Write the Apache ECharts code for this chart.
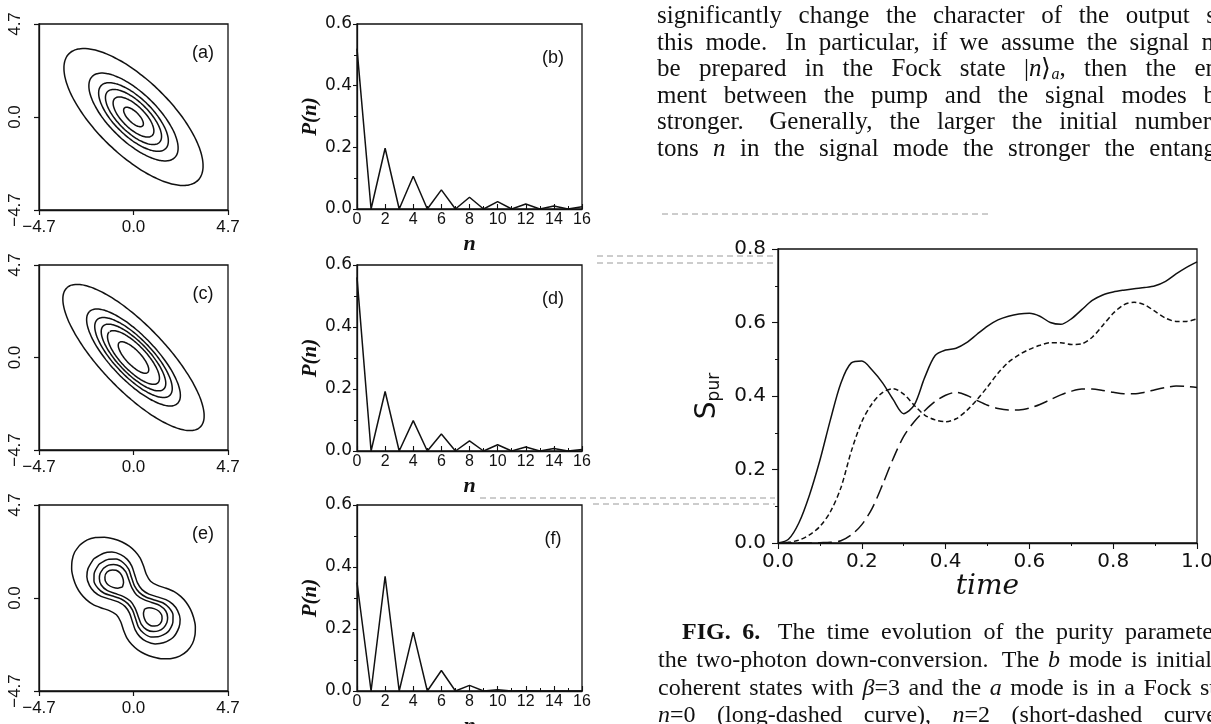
<!DOCTYPE html>
<html>
<head>
<meta charset="utf-8">
<script src="https://cdn.jsdelivr.net/npm/echarts@6.0.0/dist/echarts.min.js"></script>
<style>
html,body{margin:0;padding:0;background:#ffffff;}
#c{width:1211px;height:724px;}
</style>
</head>
<body>
<div id="c"></div>
<script>
// ---------------- DATA ----------------
// photon-number distributions P(n), n = 0..16
const nValues = [0,1,2,3,4,5,6,7,8,9,10,11,12,13,14,15,16];
const pnB = [0.52,0,0.197,0,0.106,0,0.062,0,0.038,0,0.024,0,0.016,0,0.010,0,0.007];
const pnD = [0.56,0,0.192,0,0.098,0,0.055,0,0.033,0,0.020,0,0.013,0,0.008,0,0.005];
const pnF = [0.35,0,0.37,0,0.19,0,0.066,0,0.018,0,0.004,0,0.001,0,0,0,0];

// purity parameter S_pur vs time
const timeValues = [0,0.025,0.05,0.075,0.1,0.125,0.15,0.175,0.2,0.225,0.25,0.275,0.3,0.325,0.35,0.375,0.4,0.425,0.45,0.475,0.5,0.525,0.55,0.575,0.6,0.625,0.65,0.675,0.7,0.725,0.75,0.775,0.8,0.825,0.85,0.875,0.9,0.925,0.95,0.975,1.0];
const sSolid = [0,0.010,0.055,0.130,0.225,0.335,0.435,0.490,0.495,0.470,0.435,0.390,0.352,0.375,0.450,0.510,0.525,0.530,0.545,0.568,0.590,0.607,0.617,0.623,0.625,0.617,0.600,0.595,0.610,0.635,0.660,0.675,0.683,0.688,0.692,0.695,0.700,0.712,0.732,0.750,0.765];
const sShort = [0,0.002,0.008,0.022,0.045,0.085,0.150,0.250,0.330,0.380,0.410,0.420,0.405,0.375,0.348,0.335,0.330,0.338,0.360,0.390,0.425,0.462,0.492,0.512,0.527,0.538,0.545,0.545,0.540,0.542,0.560,0.592,0.625,0.648,0.655,0.648,0.630,0.612,0.603,0.603,0.610];
const sLong  = [0,0,0,0,0.001,0.002,0.006,0.022,0.050,0.095,0.160,0.230,0.290,0.330,0.360,0.385,0.402,0.410,0.402,0.388,0.375,0.366,0.362,0.362,0.367,0.377,0.390,0.403,0.413,0.419,0.419,0.415,0.410,0.406,0.406,0.410,0.417,0.423,0.427,0.426,0.423];

// contour plots: ellipse semi-axes (major, minor) and major-axis angle (deg)
const contAMajor = [4.53,2.90,2.26,1.82,1.32,0.64];
const contAMinor = [1.85,1.20,0.95,0.76,0.56,0.27];
const contAAngle = 135;
const contCMajor = [4.85,3.20,2.64,2.20,1.77,1.04];
const contCMinor = [1.62,1.12,0.94,0.78,0.63,0.37];
const contCAngle = 133;
// panel (e): two-lobed contours, half-width v at position u along the main diagonal
const contE1 = [[0,1.20],[0.4,1.30],[0.8,1.50],[1.2,1.66],[1.6,1.72],[2.0,1.70],[2.4,1.60],[2.8,1.42],[3.2,1.15],[3.5,0.82],[3.7,0.45],[3.78,0]];
const contE2 = [[0,0.60],[0.4,0.68],[0.8,0.88],[1.2,1.08],[1.6,1.16],[2.0,1.10],[2.4,0.88],[2.65,0.55],[2.8,0]];
const contE3 = [[0,0.40],[0.4,0.47],[0.8,0.66],[1.2,0.86],[1.6,0.90],[2.0,0.78],[2.25,0.52],[2.42,0]];
const contE4 = [[0,0.22],[0.4,0.30],[0.8,0.48],[1.2,0.66],[1.6,0.67],[1.9,0.50],[2.05,0.30],[2.12,0]];
const contELoop = [[0.78,0],[0.9,0.20],[1.1,0.34],[1.35,0.42],[1.6,0.38],[1.75,0.26],[1.86,0]];
const eAngle = -45;

const contTicks = ['−4.7','0.0','4.7'];
const panelLabels = ['(a)','(b)','(c)','(d)','(e)','(f)'];

// page text (visible part of each line, cut by the page edge)
const bodyLines = [
  'significantly change the character of the output s',
  'this mode.  In particular, if we assume the signal m',
  'be prepared in the Fock state |{i|n}⟩{s|a}, then the en',
  'ment between the pump and the signal modes b',
  'stronger.  Generally, the larger the initial number',
  'tons {i|n} in the signal mode the stronger the entang'
];
const captionLines = [
  '{b|FIG.} {b|6.}  The time evolution of the purity parameter',
  'the two-photon down-conversion.  The {i|b} mode is initial',
  'coherent states with {i|β}=3 and the {i|a} mode is in a Fock st',
  '{i|n}=0  (long-dashed  curve),  {i|n}=2  (short-dashed  curve'
];

// ---------------- HELPERS ----------------
const INK = '#111111';
const SANS = 'Liberation Sans';
const SERIF = 'Liberation Serif';

function ellipsePts(a, b, angDeg){
  const th = angDeg*Math.PI/180, pts = [];
  for (let k=0;k<=120;k++){
    const t = k/120*2*Math.PI;
    const u = a*Math.cos(t), v = b*Math.sin(t);
    pts.push([u*Math.cos(th)-v*Math.sin(th), u*Math.sin(th)+v*Math.cos(th)]);
  }
  return pts;
}
function rot(u, v, angDeg){
  const th = angDeg*Math.PI/180;
  return [u*Math.cos(th)-v*Math.sin(th), u*Math.sin(th)+v*Math.cos(th)];
}
function peanutPts(prof, angDeg){
  const up = [];
  for (let i=prof.length-1;i>=0;i--) up.push([-prof[i][0], prof[i][1]]);
  for (let i=1;i<prof.length;i++) up.push([prof[i][0], prof[i][1]]);
  const pts = up.map(p=>rot(p[0],p[1],angDeg));
  for (let i=up.length-2;i>=0;i--) pts.push(rot(up[i][0], -up[i][1], angDeg));
  return pts;
}
function loopPts(prof, sign, angDeg){
  const pts = [];
  for (let i=0;i<prof.length;i++) pts.push(rot(sign*prof[i][0], prof[i][1], angDeg));
  for (let i=prof.length-2;i>=0;i--) pts.push(rot(sign*prof[i][0], -prof[i][1], angDeg));
  return pts;
}

const BOX = {
  a:{left:39, top:24, width:189, height:186},
  b:{left:357,top:24, width:225, height:185},
  c:{left:39, top:265,width:189, height:185},
  d:{left:357,top:265,width:225, height:186},
  e:{left:39, top:505,width:189, height:186},
  f:{left:357,top:505,width:225, height:186},
  s:{left:778,top:249,width:419, height:294}
};

const grids=[], xAxes=[], yAxes=[], series=[], graphics=[];
function addGrid(box){
  grids.push(Object.assign({show:true, borderColor:INK, borderWidth:1.3, backgroundColor:'transparent',
    containLabel:false, outerBoundsMode:'none'}, box));
  return grids.length-1;
}
const fmtC = v => contTicks[Math.round(v/4.7)+1];

function contourPanel(box, curves, label){
  const gi = addGrid(box);
  const base = {gridIndex:gi, type:'value', min:-4.7, max:4.7, interval:4.7,
    axisLine:{show:true,onZero:false,lineStyle:{color:INK,width:1.3}},
    axisTick:{show:true,inside:false,length:5,lineStyle:{color:INK,width:1.2}},
    splitLine:{show:false}};
  xAxes.push(Object.assign({}, base, {axisLabel:{show:true,color:INK,fontFamily:SANS,fontSize:17,margin:9,formatter:fmtC,showMinLabel:true,showMaxLabel:true}}));
  yAxes.push(Object.assign({}, base, {axisLabel:{show:true,color:INK,fontFamily:SANS,fontSize:17,margin:15,rotate:90,formatter:fmtC,showMinLabel:true,showMaxLabel:true}}));
  curves.forEach(pts=>{
    series.push({type:'line', xAxisIndex:gi, yAxisIndex:gi, data:pts, showSymbol:false, symbol:'none',
      smooth:0.25, lineStyle:{color:INK,width:1.5}, silent:true, animation:false});
  });
  graphics.push({type:'text', style:{text:label, x:box.left+box.width-25, y:box.top+29, align:'center', verticalAlign:'middle',
    fontFamily:SANS, fontSize:18, fill:INK}});
}

function pnPanel(box, values, label){
  const gi = addGrid(box);
  xAxes.push({gridIndex:gi, type:'value', min:0, max:16, interval:2,
    name:'n', nameLocation:'middle', nameGap:24,
    nameTextStyle:{fontFamily:SERIF, fontStyle:'italic', fontWeight:'bold', fontSize:22, color:INK},
    axisLine:{show:true,onZero:false,lineStyle:{color:INK,width:1.3}},
    axisTick:{show:true,inside:true,length:5,lineStyle:{color:INK,width:1.1}},
    minorTick:{show:true,splitNumber:2,length:3,lineStyle:{color:INK,width:1}},
    splitLine:{show:false}, minorSplitLine:{show:false},
    axisLabel:{show:true,color:INK,fontFamily:SANS,fontSize:16,margin:3,showMinLabel:true,showMaxLabel:true}});
  yAxes.push({gridIndex:gi, type:'value', min:0, max:0.6, interval:0.2,
    name:'P(n)', nameLocation:'middle', nameGap:36, nameRotate:90,
    nameTextStyle:{fontFamily:SERIF, fontStyle:'italic', fontWeight:'bold', fontSize:21, color:INK},
    axisLine:{show:true,onZero:false,lineStyle:{color:INK,width:1.3}},
    axisTick:{show:true,inside:false,length:4,lineStyle:{color:INK,width:1.1}},
    minorTick:{show:true,splitNumber:2,length:3,lineStyle:{color:INK,width:1}},
    splitLine:{show:false}, minorSplitLine:{show:false},
    axisLabel:{show:true,color:INK,fontFamily:'DejaVu Sans',fontSize:17,margin:5,formatter:v=>v.toFixed(1),showMinLabel:true,showMaxLabel:true}});
  series.push({type:'line', xAxisIndex:gi, yAxisIndex:gi, data:nValues.map((n,i)=>[n, values[i]]),
    showSymbol:false, symbol:'none', lineStyle:{color:INK,width:1.5}, silent:true, animation:false});
  graphics.push({type:'text', style:{text:label, x:box.left+box.width-29, y:box.top+34, align:'center', verticalAlign:'middle',
    fontFamily:SANS, fontSize:18, fill:INK}});
}

// ---------------- PANELS ----------------
contourPanel(BOX.a, contAMajor.map((a,i)=>ellipsePts(a, contAMinor[i], contAAngle)), panelLabels[0]);
pnPanel(BOX.b, pnB, panelLabels[1]);
contourPanel(BOX.c, contCMajor.map((a,i)=>ellipsePts(a, contCMinor[i], contCAngle)), panelLabels[2]);
pnPanel(BOX.d, pnD, panelLabels[3]);
contourPanel(BOX.e, [peanutPts(contE1,eAngle), peanutPts(contE2,eAngle), peanutPts(contE3,eAngle), peanutPts(contE4,eAngle),
  loopPts(contELoop, 1, eAngle), loopPts(contELoop, -1, eAngle)], panelLabels[4]);
pnPanel(BOX.f, pnF, panelLabels[5]);

// purity chart
(function(){
  const gi = addGrid(BOX.s);
  xAxes.push({gridIndex:gi, type:'value', min:0, max:1, interval:0.2,
    name:'time', nameLocation:'middle', nameGap:29,
    nameTextStyle:{fontFamily:'DejaVu Serif', fontStyle:'italic', fontSize:28, color:INK},
    axisLine:{show:true,onZero:false,lineStyle:{color:INK,width:1.3}},
    axisTick:{show:true,inside:false,length:6,lineStyle:{color:INK,width:1.1}},
    minorTick:{show:true,splitNumber:2,length:3,lineStyle:{color:INK,width:1}},
    splitLine:{show:false}, minorSplitLine:{show:false},
    axisLabel:{show:true,color:INK,fontFamily:'DejaVu Sans',fontSize:20,margin:9,formatter:v=>v.toFixed(1),showMinLabel:true,showMaxLabel:true}});
  yAxes.push({gridIndex:gi, type:'value', min:0, max:0.8, interval:0.2,
    name:'{s|S}{p|pur}', nameLocation:'middle', nameGap:55, nameRotate:90,
    nameTextStyle:{color:INK, rich:{
      s:{fontFamily:'DejaVu Sans', fontSize:28, lineHeight:30, color:INK},
      p:{fontFamily:'DejaVu Sans', fontSize:17, lineHeight:14, verticalAlign:'bottom', color:INK}}},
    axisLine:{show:true,onZero:false,lineStyle:{color:INK,width:1.3}},
    axisTick:{show:true,inside:false,length:6,lineStyle:{color:INK,width:1.1}},
    minorTick:{show:true,splitNumber:2,length:3,lineStyle:{color:INK,width:1}},
    splitLine:{show:false}, minorSplitLine:{show:false},
    axisLabel:{show:true,color:INK,fontFamily:'DejaVu Sans',fontSize:20,margin:12,formatter:v=>v.toFixed(1),showMinLabel:true,showMaxLabel:true}});
  const mk = (vals, dash) => ({type:'line', xAxisIndex:gi, yAxisIndex:gi, data:timeValues.map((t,i)=>[t, vals[i]]),
    showSymbol:false, symbol:'none', smooth:0.3, lineStyle:{color:INK,width:1.5,type:dash}, silent:true, animation:false});
  series.push(mk(sSolid,'solid'), mk(sShort,[5,3]), mk(sLong,[14,6]));
})();

// ---------------- PAGE TEXT (justified to the column, cut by page edge) ----------------
const mctx = document.createElement('canvas').getContext('2d');
function segFont(kind, size){
  if (kind==='i') return {style:'italic', weight:'normal', size:size};
  if (kind==='b') return {style:'normal', weight:'bold', size:size};
  if (kind==='s') return {style:'italic', weight:'normal', size:Math.round(size*0.65)};
  return {style:'normal', weight:'normal', size:size};
}
function measureWord(word, size){
  const re = /\{(\w)\|([^}]*)\}/g; let last = 0, w = 0, m;
  const segs = [];
  while ((m = re.exec(word))){ if (m.index>last) segs.push(['', word.slice(last, m.index)]); segs.push([m[1], m[2]]); last = re.lastIndex; }
  if (last < word.length) segs.push(['', word.slice(last)]);
  segs.forEach(s=>{ const f = segFont(s[0], size); mctx.font = f.style+' '+f.weight+' '+f.size+'px "'+SERIF+'"'; w += mctx.measureText(s[1]).width; });
  return w;
}
function richFor(size, lh){
  return {
    i:{fontFamily:SERIF,fontStyle:'italic',fontSize:size,lineHeight:lh,fill:INK},
    b:{fontFamily:SERIF,fontWeight:'bold',fontSize:size,lineHeight:lh,fill:INK},
    s:{fontFamily:SERIF,fontStyle:'italic',fontSize:Math.round(size*0.65),lineHeight:Math.round(lh*0.45),verticalAlign:'bottom',fill:INK}
  };
}
function justifyLine(str, x0, xRight, y, size, lh){
  const parts = str.split(' ');
  const words = []; let extra = 0;
  parts.forEach(p=>{ if (p===''){ extra += 0.5; return; } words.push({t:p, g: words.length ? 1+extra : 0}); extra = 0; });
  let total = 0, gw = 0;
  words.forEach(w=>{ w.w = measureWord(w.t, size); total += w.w; gw += w.g; });
  const natural = size*0.25;
  let gap = gw>0 ? (xRight - x0 - total)/gw : natural;
  if (gap < natural*0.8) gap = natural;
  let x = x0;
  words.forEach(w=>{
    x += w.g*gap;
    graphics.push({type:'text', silent:true, style:{text:w.t, x:x, y:y, align:'left', verticalAlign:'middle',
      fontFamily:SERIF, fontSize:size, lineHeight:lh, fill:INK, rich:richFor(size, lh)}});
    x += w.w;
  });
}
const bodyX = 657, bodyY = [16, 43, 69, 96, 122, 149], bodyRight = [1216, 1221, 1218, 1216, 1211, 1216];
bodyLines.forEach((t,i)=>justifyLine(t, bodyX, bodyRight[i], bodyY[i], 25, 28));
const capX = [682, 658, 658, 658], capY = [633, 661, 689, 716], capRight = [1221, 1212, 1216, 1217];
captionLines.forEach((t,i)=>justifyLine(t, capX[i], capRight[i], capY[i], 24, 28));

// faint scan streaks
[[662,214,990,214],[597,256,775,256],[597,263,775,263],[480,498,775,498],[593,504,775,504]].forEach(s=>{
  graphics.push({type:'line', shape:{x1:s[0],y1:s[1],x2:s[2],y2:s[3]}, style:{stroke:'#9a9a9a', lineWidth:1, lineDash:[6,4]}, silent:true});
});

const chart = echarts.init(document.getElementById('c'), null, {renderer:'canvas', width:1211, height:724});
chart.setOption({
  animation:false,
  backgroundColor:'#ffffff',
  grid:grids, xAxis:xAxes, yAxis:yAxes, series:series,
  graphic:{elements:graphics}
});
</script>
</body>
</html>
